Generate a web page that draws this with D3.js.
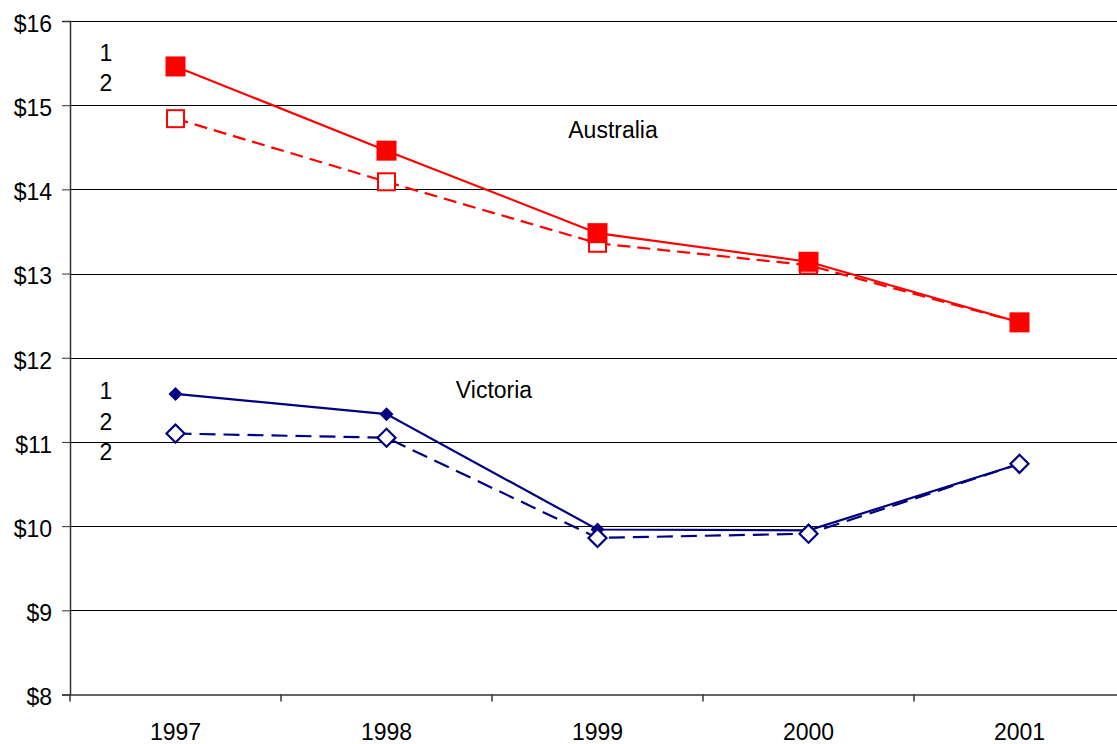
<!DOCTYPE html>
<html>
<head>
<meta charset="utf-8">
<script src="https://cdn.jsdelivr.net/npm/d3@7"></script>
<style>
  html, body { margin: 0; padding: 0; background: #fff; overflow: hidden; }
  svg { display: block; font-family: "Liberation Sans", Arial, sans-serif; }
</style>
</head>
<body>
<svg id="chart" width="1117" height="744"></svg>
<script>
// Yearly values, dollars
const years = ["1997", "1998", "1999", "2000", "2001"];
const australia1 = [15.46, 14.46, 13.48, 13.14, 12.42];
const australia2 = [14.84, 14.09, 13.36, 13.10, 12.42];
const victoria1 = [11.57, 11.33, 9.96, 9.95, 10.74];
const victoria2 = [11.10, 11.05, 9.86, 9.91, 10.74];
const yTicks = [8, 9, 10, 11, 12, 13, 14, 15, 16];

const svg = d3.select("#chart");
const plotLeft = 70, plotRight = 1125, plotTop = 21, plotBottom = 694.5;
const fontSize = 23;

const x = d3.scaleBand().domain(years).range([plotLeft, plotRight]);
const y = d3.scaleLinear().domain([8, 16]).range([plotBottom, plotTop]);
const cx = d => x(d) + x.bandwidth() / 2;

// Horizontal gridlines
svg.append("g")
  .selectAll("line")
  .data(yTicks.filter(t => t > 8))
  .join("line")
  .attr("x1", plotLeft).attr("x2", 1117)
  .attr("y1", d => Math.round(y(d)) + 0.5).attr("y2", d => Math.round(y(d)) + 0.5)
  .attr("stroke", "#000").attr("stroke-width", 1);

// Y axis
const yAxis = svg.append("g")
  .attr("transform", `translate(${plotLeft},0)`)
  .call(d3.axisLeft(y).tickValues(yTicks).tickSize(8).tickPadding(10).tickFormat(d => "$" + d));
yAxis.select(".domain").attr("stroke", "#333").attr("stroke-width", 1.5);
yAxis.selectAll(".tick line").attr("stroke", "#333");
yAxis.selectAll(".tick text")
  .attr("font-size", fontSize)
  .attr("font-family", "'Liberation Sans', Arial, sans-serif")
  .attr("fill", "#000").attr("dy", "0.45em");

// X axis
const xAxis = svg.append("g")
  .attr("transform", `translate(0,${plotBottom})`)
  .call(d3.axisBottom(x).tickSize(0).tickPadding(29));
xAxis.select(".domain").attr("stroke", "#333").attr("stroke-width", 1.5);
xAxis.selectAll(".tick text")
  .attr("font-size", fontSize)
  .attr("font-family", "'Liberation Sans', Arial, sans-serif")
  .attr("fill", "#000");
// Category separator ticks
svg.append("g")
  .selectAll("line")
  .data(d3.range(years.length + 1))
  .join("line")
  .attr("x1", i => plotLeft + i * x.step()).attr("x2", i => plotLeft + i * x.step())
  .attr("y1", plotBottom).attr("y2", plotBottom + 7)
  .attr("stroke", "#333").attr("stroke-width", 1.5);

function drawSeries(values, color, dash) {
  const line = d3.line().x((d, i) => cx(years[i])).y(d => y(d));
  svg.append("path")
    .datum(values)
    .attr("d", line)
    .attr("fill", "none")
    .attr("stroke", color)
    .attr("stroke-width", 2.2)
    .attr("stroke-dasharray", dash);
}

function drawSquares(values, color, filled, size) {
  svg.append("g").selectAll("rect")
    .data(values)
    .join("rect")
    .attr("x", (d, i) => cx(years[i]) - size / 2)
    .attr("y", d => y(d) - size / 2)
    .attr("width", size).attr("height", size)
    .attr("fill", filled ? color : "#fff")
    .attr("stroke", color).attr("stroke-width", filled ? 0 : 2);
}

function drawDiamonds(values, color, filled, r) {
  svg.append("g").selectAll("path")
    .data(values)
    .join("path")
    .attr("d", (d, i) => {
      const px = cx(years[i]), py = y(d);
      return `M${px},${py - r}L${px + r},${py}L${px},${py + r}L${px - r},${py}Z`;
    })
    .attr("fill", filled ? color : "#fff")
    .attr("stroke", color).attr("stroke-width", filled ? 0 : 2.2);
}

const red = "#ff0000", navy = "#000080";

// Australia: series 2 underneath, series 1 on top
drawSeries(australia2, red, "13,7");
drawSquares(australia2, red, false, 17);
drawSeries(australia1, red, null);
drawSquares(australia1, red, true, 20);

// Victoria: series 1 underneath, series 2 on top
drawSeries(victoria1, navy, null);
drawDiamonds(victoria1, navy, true, 7);
drawSeries(victoria2, navy, "16,8");
drawDiamonds(victoria2, navy, false, 9);

// Text labels
const labels = [
  { t: "1", x: 106, y: 61 },
  { t: "2", x: 106, y: 91 },
  { t: "1", x: 106, y: 399 },
  { t: "2", x: 106, y: 430 },
  { t: "2", x: 106, y: 460 },
  { t: "Australia", x: 613, y: 138 },
  { t: "Victoria", x: 494, y: 398 }
];
svg.append("g").selectAll("text")
  .data(labels)
  .join("text")
  .attr("x", d => d.x).attr("y", d => d.y)
  .attr("text-anchor", "middle")
  .attr("font-size", fontSize)
  .attr("fill", "#000")
  .text(d => d.t);
</script>
</body>
</html>
